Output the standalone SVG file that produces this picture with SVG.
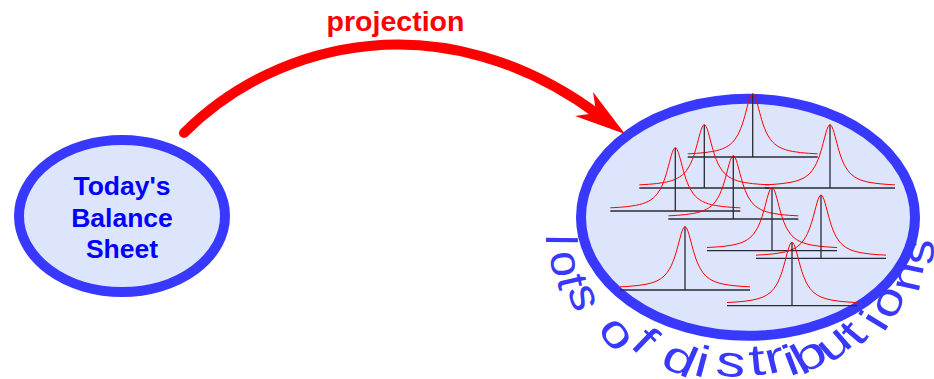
<svg xmlns="http://www.w3.org/2000/svg" width="934" height="379" viewBox="0 0 934 379">
<style>
.node{fill:#dde5fc;stroke:#3838ff;stroke-width:10}
.ntext{font-family:"Liberation Sans",Arial,sans-serif;font-weight:bold;font-size:26.5px;fill:#0000ff;text-anchor:middle}
.plabel{font-family:"Liberation Sans",Arial,sans-serif;font-weight:bold;font-size:28.5px;fill:#ff0000;text-anchor:middle}
.lod{font-family:"Liberation Sans",Arial,sans-serif;font-size:44px;fill:#3838ff;text-anchor:middle}
.base{stroke:#2a2a33;stroke-width:1.3;fill:none}
.pdf{stroke:#ff0000;stroke-width:1;fill:none;stroke-linejoin:round}
</style>
<defs>
<g id="dist">
<line class="base" x1="-65" y1="0" x2="65" y2="0"/>
<line class="base" x1="0" y1="0" x2="0" y2="-63.3"/>
<path class="pdf" d="M-65,-3.15 L-56,-3.68 -48,-4.4 -40,-5.56 -36,-6.42 -33,-7.25 -30,-8.32 -27,-9.69 -24.5,-11.16 -22,-13.03 -20,-14.92 -18,-17.25 -15,-21.88 -13.5,-24.84 -12,-28.35 -11,-31 -10,-33.94 -9,-37.16 -8,-40.63 -7,-44.31 -6,-48.11 -5,-51.89 -4,-55.48 -3,-58.64 -2,-61.14 -1,-62.75 0,-63.3 1,-62.75 2,-61.14 3,-58.64 4,-55.48 5,-51.89 6,-48.11 7,-44.31 8,-40.63 9,-37.16 10,-33.94 11,-31 12,-28.35 13.5,-24.84 15,-21.88 18,-17.25 20,-14.92 22,-13.03 24.5,-11.16 27,-9.69 30,-8.32 33,-7.25 36,-6.42 40,-5.56 48,-4.4 56,-3.68 65,-3.15"/>
</g>
</defs>

<g id="node-balance">
<ellipse class="node" cx="122" cy="216" rx="103" ry="76"/>
<text class="ntext" x="122" y="195">Today's</text>
<text class="ntext" x="122" y="227">Balance</text>
<text class="ntext" x="122" y="258">Sheet</text>
</g>

<g id="node-distributions">
<ellipse class="node" cx="748" cy="217.3" rx="167" ry="118.5"/>
<use href="#dist" x="752.7" y="157"/>
<use href="#dist" x="704.3" y="188"/>
<use href="#dist" x="830" y="188"/>
<use href="#dist" x="675.3" y="211"/>
<use href="#dist" x="733.3" y="219"/>
<use href="#dist" x="772" y="250.7"/>
<use href="#dist" x="821" y="258.3"/>
<use href="#dist" x="685" y="290"/>
<use href="#dist" x="792" y="305.7"/>
<g id="label-lots">
<text class="lod" transform="translate(546,240) rotate(90.6) scale(1.05,1)">l</text>
<text class="lod" transform="translate(551.2,265.4) rotate(83.1) scale(1.05,1)">o</text>
<text class="lod" transform="translate(557.9,284.7) rotate(77.1) scale(1.1,1)">t</text>
<text class="lod" transform="translate(571.2,301.7) rotate(71) scale(1.15,1)">s</text>
<text class="lod" transform="translate(605.7,341.6) rotate(54.4) scale(1.3,1)">o</text>
<text class="lod" transform="translate(634.6,351.2) rotate(44) scale(1.3,1)">f</text>
<text class="lod" transform="translate(674.2,372.5) rotate(24) scale(1.35,1)">d</text>
<text class="lod" transform="translate(698.6,376.3) rotate(15) scale(1.35,1)">i</text>
<text class="lod" transform="translate(729.6,376.5) rotate(5.5) scale(1.35,1)">s</text>
<text class="lod" transform="translate(758.5,375) rotate(-5.8) scale(1.35,1)">t</text>
<text class="lod" transform="translate(777.8,372.1) rotate(-14.1) scale(1.35,1)">r</text>
<text class="lod" transform="translate(795.7,374.5) rotate(-20.9) scale(1.35,1)">i</text>
<text class="lod" transform="translate(815.8,367.9) rotate(-29.4) scale(1.35,1)">b</text>
<text class="lod" transform="translate(842.5,354.6) rotate(-40.9) scale(1.3,1)">u</text>
<text class="lod" transform="translate(864.1,342.3) rotate(-49.9) scale(1.3,1)">t</text>
<text class="lod" transform="translate(886.7,328.3) rotate(-58.6) scale(1.3,1)">i</text>
<text class="lod" transform="translate(900.5,307.4) rotate(-67.2) scale(1.25,1)">o</text>
<text class="lod" transform="translate(921.2,279.4) rotate(-78) scale(1.2,1)">n</text>
<text class="lod" transform="translate(933.4,252.6) rotate(-86.8) scale(1.15,1)">s</text>
</g>
</g>

<g id="connectors">
<path d="M184,133 C279,38 446,2 598,114.5" fill="none" stroke="#ff0000" stroke-width="10" stroke-linecap="round"/>
<polygon points="625,134 593,92 596.3,113 575,116" fill="#ff0000"/>
<text class="plabel" x="395.5" y="31">projection</text>
</g>
</svg>
